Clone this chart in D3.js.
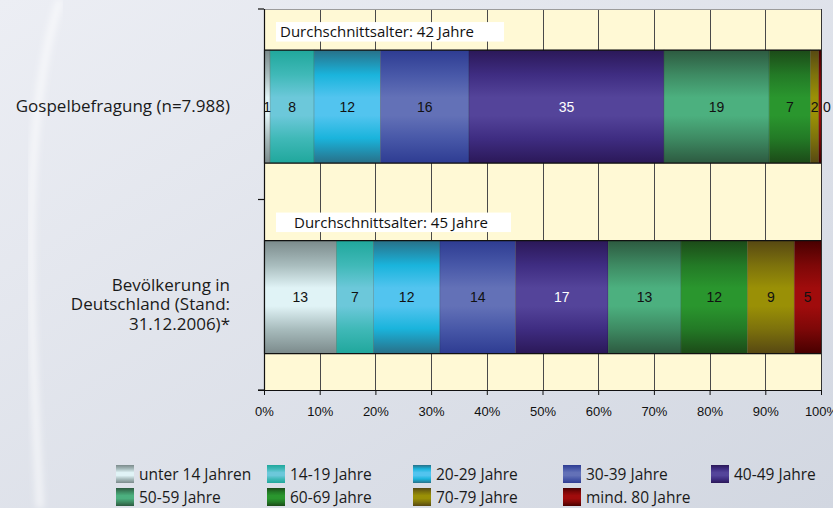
<!DOCTYPE html>
<html>
<head>
<meta charset="utf-8">
<script src="https://cdn.jsdelivr.net/npm/d3@7"></script>
<style>
  html, body { margin: 0; padding: 0; }
  body { width: 833px; height: 508px; overflow: hidden; }
  svg { display: block; }
</style>
</head>
<body>
<svg id="chart" width="833" height="508"></svg>
<script>
// ---------- data ----------
const categories = ["Gospelbefragung (n=7.988)", "Bevölkerung in Deutschland (Stand: 31.12.2006)*"];
const ageGroups = ["unter 14 Jahren", "14-19 Jahre", "20-29 Jahre", "30-39 Jahre", "40-49 Jahre",
                   "50-59 Jahre", "60-69 Jahre", "70-79 Jahre", "mind. 80 Jahre"];
const gospelValues = [1.1, 7.9, 11.9, 15.9, 35.0, 18.9, 7.4, 1.5, 0.4];
const populationValues = [13.3, 6.8, 12.2, 13.9, 17.0, 13.4, 12.2, 8.6, 4.9];
const averageAgeLabels = ["Durchschnittsalter: 42 Jahre", "Durchschnittsalter: 45 Jahre"];
const xTickValues = [0, 0.1, 0.2, 0.3, 0.4, 0.5, 0.6, 0.7, 0.8, 0.9, 1.0];
const categoryLines = [["Gospelbefragung (n=7.988)"], ["Bevölkerung in", "Deutschland (Stand:", "31.12.2006)*"]];

// ---------- styles ----------
// [edge, inner, center] colour per age group for the vertical gradient
const groupColors = [
  ["#7b8a8b", "#a9bdbe", "#e0f3f6"],
  ["#20a79c", "#40b9b8", "#6cc8da"],
  ["#287088", "#1ab4dc", "#52c4ef"],
  ["#2e3c92", "#4858a8", "#6371b7"],
  ["#2b1858", "#3f2d82", "#54449a"],
  ["#2d5a40", "#3e8b63", "#4cb07f"],
  ["#1c4a18", "#237a26", "#2a962e"],
  ["#574812", "#7d720c", "#9a9006"],
  ["#480000", "#7e0808", "#a00c0c"]
];
const labelColors = ["#111", "#111", "#111", "#111", "#fff", "#111", "#111", "#111", "#111"];
const textFont = "'Open Sans', sans-serif";

const svg = d3.select("#chart");
const defs = svg.append("defs");

// page background
const bg = defs.append("linearGradient").attr("id", "bg")
  .attr("x1", "0").attr("y1", "0").attr("x2", "1").attr("y2", "1");
bg.append("stop").attr("offset", "0").attr("stop-color", "#eceef4");
bg.append("stop").attr("offset", "1").attr("stop-color", "#d2d7e1");
svg.append("rect").attr("width", 833).attr("height", 508).attr("fill", "url(#bg)");
const blur = defs.append("filter").attr("id", "blur");
blur.append("feGaussianBlur").attr("stdDeviation", 3);
svg.append("path")
  .attr("d", "M60,0 C20,120 30,300 40,508")
  .attr("fill", "none").attr("stroke", "#ffffff").attr("stroke-opacity", 0.55)
  .attr("stroke-width", 8).attr("filter", "url(#blur)");

groupColors.forEach((c, i) => {
  const g = defs.append("linearGradient").attr("id", "grad" + i)
    .attr("x1", "0").attr("y1", "0").attr("x2", "0").attr("y2", "1");
  [[0, c[0]], [0.22, c[1]], [0.42, c[2]], [0.58, c[2]], [0.78, c[1]], [1, c[0]]].forEach(s =>
    g.append("stop").attr("offset", s[0]).attr("stop-color", s[1]));
});

// ---------- scales ----------
const plotLeft = 264, plotRight = 821, plotTop = 9, plotBottom = 390;
const x = d3.scaleLinear().domain([0, 1]).range([plotLeft, plotRight]);
const y = d3.scaleBand().domain(categories).range([plotTop, plotBottom]).padding(0);
const barH = y.bandwidth() * 0.593;
const barOffset = 2.3;
const barTop = c => y(c) + (y.bandwidth() - barH) / 2 + barOffset;

const rows = [gospelValues, populationValues].map((vals, ri) => {
  const o = { category: categories[ri] };
  ageGroups.forEach((g, i) => o[g] = vals[i]);
  return o;
});
const stack = d3.stack().keys(ageGroups).offset(d3.stackOffsetExpand);
const series = stack(rows);

// plot background
svg.append("rect").attr("x", plotLeft).attr("y", plotTop)
  .attr("width", plotRight - plotLeft).attr("height", plotBottom - plotTop)
  .attr("fill", "#fff9d5");

// grid lines
svg.append("g").selectAll("line").data(xTickValues.filter(v => v > 0 && v < 1)).join("line")
  .attr("x1", d => Math.round(x(d)) + 0.5).attr("x2", d => Math.round(x(d)) + 0.5)
  .attr("y1", plotTop).attr("y2", plotBottom)
  .attr("stroke", "#4a4a4a").attr("stroke-width", 1);
// top border & right border
svg.append("line").attr("x1", plotLeft).attr("x2", plotRight).attr("y1", plotTop + 0.5).attr("y2", plotTop + 0.5)
  .attr("stroke", "#9c9c9c");
svg.append("line").attr("x1", plotRight + 0.5).attr("x2", plotRight + 0.5).attr("y1", plotTop).attr("y2", plotBottom)
  .attr("stroke", "#333");

// bars
const segG = svg.append("g");
series.forEach((s, i) => {
  segG.selectAll(null).data(s).join("rect")
    .attr("x", d => x(d[0]))
    .attr("width", d => Math.max(0, x(d[1]) - x(d[0])))
    .attr("y", d => barTop(d.data.category))
    .attr("height", barH)
    .attr("fill", "url(#grad" + i + ")")
    .attr("stroke", "rgba(0,0,0,0.18)").attr("stroke-width", 0.8);
});
// bar top/bottom outlines
categories.forEach(c => {
  [barTop(c), barTop(c) + barH].forEach(yy => {
    svg.append("line").attr("x1", plotLeft).attr("x2", plotRight)
      .attr("y1", yy).attr("y2", yy).attr("stroke", "#111").attr("stroke-width", 1.2);
  });
});

// value labels
const labG = svg.append("g").attr("font-family", "'Liberation Sans', Arial, sans-serif")
  .attr("font-size", 14).attr("text-anchor", "middle");
series.forEach((s, i) => {
  labG.selectAll(null).data(s).join("text")
    .attr("x", d => {
      const cx = (x(d[0]) + x(d[1])) / 2;
      return (x(d[1]) - x(d[0]) < 3) ? cx + 7 : cx;
    })
    .attr("y", d => barTop(d.data.category) + barH / 2 + 5)
    .attr("fill", d => (x(d[1]) - x(d[0]) < 3) ? "#111" : labelColors[i])
    .text(d => Math.round(d.data[s.key]));
});

// average age boxes
const boxTextX = [280, 294];
const boxW = [228, 235];
categories.forEach((c, i) => {
  const bt = barTop(c);
  svg.append("rect").attr("x", 276).attr("y", bt - 28).attr("width", boxW[i]).attr("height", 19.5)
    .attr("fill", "#ffffff");
  svg.append("text").attr("x", boxTextX[i]).attr("y", bt - 13)
    .attr("font-family", textFont).attr("font-size", 15).attr("fill", "#111")
    .text(averageAgeLabels[i]);
});

// axes
svg.append("line").attr("x1", plotLeft + 0.5).attr("x2", plotLeft + 0.5).attr("y1", plotTop).attr("y2", plotBottom)
  .attr("stroke", "#111").attr("stroke-width", 1.2);
[plotTop, (plotTop + plotBottom) / 2, plotBottom].forEach(yy => {
  svg.append("line").attr("x1", plotLeft - 6).attr("x2", plotLeft).attr("y1", yy).attr("y2", yy)
    .attr("stroke", "#111").attr("stroke-width", 1.2);
});
const xAxis = d3.axisBottom(x).tickValues(xTickValues).tickFormat(d3.format(".0%")).tickSize(5).tickSizeOuter(0);
const xg = svg.append("g").attr("transform", `translate(0,${plotBottom})`).call(xAxis);
xg.select(".domain").attr("stroke", "#111").attr("stroke-width", 1.2).attr("d", `M${plotLeft - 6},0.5H${plotRight}`);
xg.selectAll(".tick line").attr("stroke", "#111");
xg.selectAll(".tick text").attr("font-family", "'Liberation Sans', Arial, sans-serif")
  .attr("font-size", 13).attr("fill", "#111").attr("y", 26).attr("dy", 0);

// category labels
categories.forEach((c, i) => {
  const lines = categoryLines[i];
  const cy = barTop(c) + barH / 2 + (lines.length > 1 ? 7 : -1);
  const t = svg.append("text").attr("text-anchor", "end")
    .attr("font-family", textFont).attr("font-size", 17).attr("fill", "#1a1a1a");
  lines.forEach((l, k) => {
    t.append("tspan").attr("x", 230)
      .attr("y", cy + (k - (lines.length - 1) / 2) * 19.5 + 6)
      .text(l);
  });
});

// legend
const legX = [116, 267, 413, 563, 711];
const legY = [465, 488];
const leg = svg.append("g");
ageGroups.forEach((g, i) => {
  const lx = legX[i % 5], ly = legY[Math.floor(i / 5)];
  leg.append("rect").attr("x", lx).attr("y", ly).attr("width", 18).attr("height", 18)
    .attr("fill", "url(#grad" + i + ")");
  leg.append("text").attr("x", lx + 23).attr("y", ly + 14.5)
    .attr("font-family", textFont).attr("font-size", 15.5).attr("fill", "#1a1a1a")
    .text(g);
});
</script>
</body>
</html>
